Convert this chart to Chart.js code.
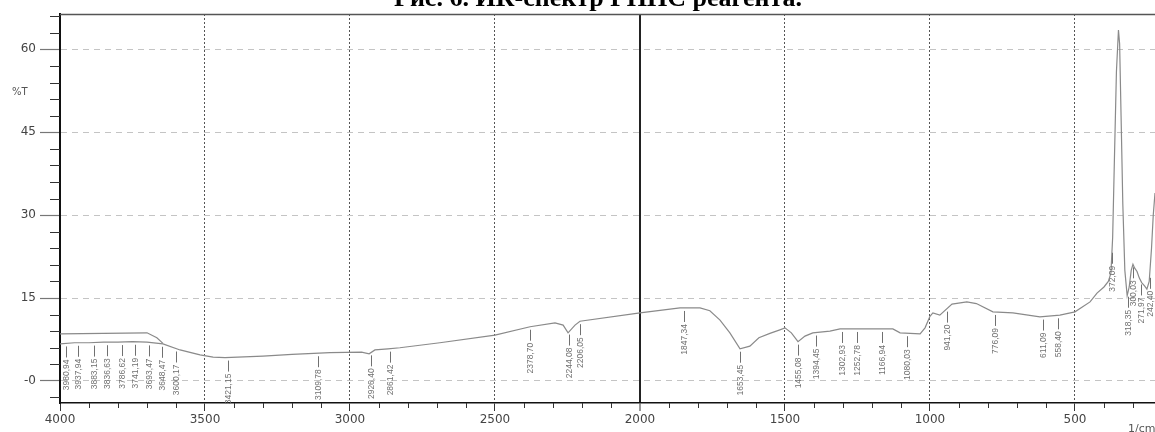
<!DOCTYPE html>
<html>
<head>
<meta charset="utf-8">
<script src="https://cdn.jsdelivr.net/npm/chart.js@4.4.1/dist/chart.umd.min.js"></script>
<style>
  html, body { margin: 0; padding: 0; background: #fff; overflow: hidden; }
  #wrap { position: relative; width: 1155px; height: 432px; }
  #c { position: absolute; left: 0; top: 0; }
  #title {
    position: absolute; left: 394px; top: -15px; white-space: nowrap;
    font: bold 26px "Liberation Serif", serif; color: #000; line-height: 26px;
  }
</style>
</head>
<body>
<div id="wrap">
  <canvas id="c" width="1155" height="432"></canvas>
  <div id="title">Рис. 6. ИК-спектр ГННС реагента.</div>
</div>
<script>
// main spectrum, wavenumber (1/cm) and %T
const wn = [4000, 3950, 3900, 3850, 3800, 3750, 3700, 3645, 3586, 3517, 3472, 3431, 3300, 3200, 3069,
  2960, 2934, 2914, 2869, 2828, 2690, 2500, 2379, 2293, 2265, 2248, 2224, 2207, 2000, 1862, 1793,
  1759, 1724, 1690, 1655, 1621, 1590, 1552, 1520, 1500, 1478, 1455, 1431, 1404, 1345, 1310, 1128,
  1103, 1034, 1017, 1000, 990, 966, 924, 873, 840, 783, 714, 621, 552, 500, 448, 424, 400, 385,
  376, 370, 364, 357, 350, 346, 341, 335, 328, 320, 313, 306, 300, 294, 286, 278, 270, 260, 252,
  244, 236, 230, 224];
const tr = [6.7, 6.9, 6.9, 7.0, 7.0, 7.1, 7.0, 6.7, 5.6, 4.7, 4.3, 4.2, 4.5, 4.8, 5.1,
  5.2, 4.9, 5.6, 5.8, 6.0, 6.9, 8.3, 9.8, 10.5, 10.1, 8.7, 10.1, 10.8, 12.3, 13.2, 13.2,
  12.7, 11.0, 8.7, 5.8, 6.3, 7.8, 8.6, 9.2, 9.6, 8.7, 7.1, 8.1, 8.7, 9.0, 9.4, 9.4,
  8.7, 8.5, 9.6, 11.7, 12.3, 11.9, 13.9, 14.3, 14.0, 12.5, 12.3, 11.6, 11.9, 12.5, 14.3, 15.9, 17.0, 18.0,
  19.5, 26, 40, 56, 63.5, 61, 48, 32, 20, 15.4, 17, 20, 21.1, 20.4, 19.8, 18.6, 17.8, 17.2, 16.6,
  18, 24, 30, 34];

// short upper trace at the left end
const upperWn = [4000, 3850, 3700, 3666, 3645];
const upperTr = [8.5, 8.6, 8.7, 7.8, 6.8];

// peak marks
const peaks = [3980.94, 3937.94, 3883.15, 3836.63, 3786.62, 3741.19, 3693.47, 3648.47, 3600.17,
  3421.15, 3109.78, 2926.40, 2861.42, 2378.70, 2244.08, 2206.05, 1847.34, 1653.45, 1455.08,
  1394.45, 1302.93, 1252.78, 1166.94, 1080.03, 941.20, 776.09, 611.09, 558.40,
  372.09, 318.35, 300.03, 271.97, 242.40];

const xMajor = [4000, 3500, 3000, 2500, 2000, 1500, 1000, 500];
const yMajor = [0, 15, 30, 45, 60];
const yLabels = ['-0', '15', '30', '45', '60'];

function trAt(w) {
  for (let i = 0; i < wn.length - 1; i++) {
    if (w <= wn[i] && w >= wn[i + 1]) {
      const t = (wn[i] - w) / (wn[i] - wn[i + 1]);
      return tr[i] + t * (tr[i + 1] - tr[i]);
    }
  }
  return tr[tr.length - 1];
}

const decor = {
  id: 'decor',
  afterDraw(chart) {
    const { ctx, chartArea: a, scales: { x: xs, y: ys } } = chart;
    ctx.save();
    // top frame line
    ctx.strokeStyle = '#555';
    ctx.lineWidth = 1.5;
    ctx.beginPath();
    ctx.moveTo(a.left, a.top + 0.5);
    ctx.lineTo(a.right, a.top + 0.5);
    ctx.stroke();

    // minor ticks
    ctx.strokeStyle = '#333';
    ctx.lineWidth = 1;
    ctx.beginPath();
    for (let v = 3900; v > 224; v -= 100) {
      if (v % 500 === 0) continue;
      const px = Math.round(xs.getPixelForValue(v)) + 0.5;
      ctx.moveTo(px, a.bottom);
      ctx.lineTo(px, a.bottom + 5);
    }
    for (let v = -3; v < 66.4; v += 3) {
      if (v % 15 === 0) continue;
      const py = Math.round(ys.getPixelForValue(v)) + 0.5;
      ctx.moveTo(a.left - 10, py);
      ctx.lineTo(a.left, py);
    }
    ctx.stroke();

    // axis captions
    ctx.fillStyle = '#555';
    ctx.font = '10px "DejaVu Sans"';
    ctx.textBaseline = 'middle';
    ctx.fillText('%T', 12, 92);
    ctx.textBaseline = 'top';
    ctx.font = '11px "DejaVu Sans"';
    ctx.fillText('1/cm', 1128, 424);

    // peak labels
    ctx.font = '8.5px "Liberation Sans"';
    ctx.fillStyle = '#707070';
    ctx.strokeStyle = '#707070';
    ctx.beginPath();
    peaks.forEach(p => {
      const px = Math.round(xs.getPixelForValue(p)) + 0.5;
      const py = ys.getPixelForValue(trAt(p));
      ctx.moveTo(px, py + 3);
      ctx.lineTo(px, py + 14);
    });
    ctx.stroke();
    peaks.forEach(p => {
      const px = Math.round(xs.getPixelForValue(p));
      const py = ys.getPixelForValue(trAt(p));
      ctx.save();
      ctx.translate(px + 3, py + 16);
      ctx.rotate(-Math.PI / 2);
      ctx.textAlign = 'right';
      ctx.textBaseline = 'alphabetic';
      ctx.fillText(p.toFixed(2).replace('.', ','), 0, 0);
      ctx.restore();
    });
    ctx.restore();
  }
};

const isMid = c => c.tick && c.tick.value === 2000;

new Chart(document.getElementById('c').getContext('2d'), {
  type: 'line',
  data: {
    datasets: [
      {
        data: wn.map((x, i) => ({ x, y: tr[i] })),
        borderColor: '#8a8a8a', borderWidth: 1.2, pointRadius: 0, tension: 0
      },
      {
        data: upperWn.map((x, i) => ({ x, y: upperTr[i] })),
        borderColor: '#8a8a8a', borderWidth: 1.2, pointRadius: 0, tension: 0
      }
    ]
  },
  options: {
    responsive: false,
    animation: false,
    devicePixelRatio: 1,
    layout: { padding: { top: 14, left: 0, right: 0, bottom: 0 } },
    plugins: { legend: { display: false }, tooltip: { enabled: false } },
    scales: {
      x: {
        type: 'linear', reverse: true, min: 224, max: 4000,
        afterBuildTicks: s => { s.ticks = xMajor.map(v => ({ value: v })); },
        afterFit: s => { s.height = 29; },
        grid: {
          color: c => isMid(c) ? '#222' : '#555',
          lineWidth: c => isMid(c) ? 2 : 1,
          tickLength: 8, tickColor: '#333', tickWidth: 1
        },
        border: { color: '#111', width: 1.5, dash: c => (c.tick && !isMid(c)) ? [2, 2] : [] },
        ticks: {
          color: '#444', font: { family: 'DejaVu Sans', size: 12 }, padding: 2,
          maxRotation: 0, autoSkip: false, callback: v => String(v)
        }
      },
      y: {
        min: -4, max: 66.4,
        afterBuildTicks: s => { s.ticks = yMajor.map(v => ({ value: v })); },
        afterFit: s => { s.width = 60; },
        grid: { color: '#c4c4c4', lineWidth: 1, tickLength: 20, tickColor: '#777', tickWidth: 1.2 },
        border: { color: '#111', width: 2, dash: c => c.tick ? [6, 5] : [] },
        ticks: {
          color: '#444', font: { family: 'DejaVu Sans', size: 12 }, padding: 4,
          callback: (v, i) => yLabels[i]
        }
      }
    }
  },
  plugins: [decor]
});
</script>
</body>
</html>
